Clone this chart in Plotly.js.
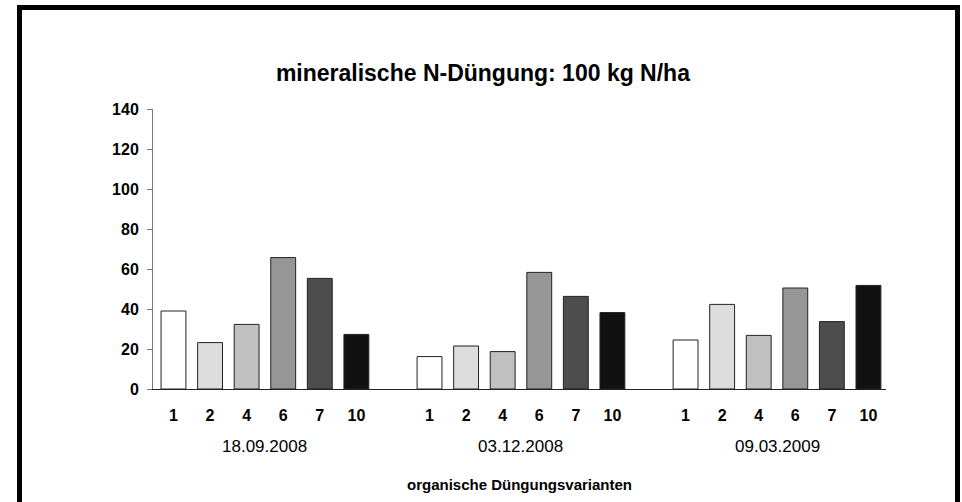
<!DOCTYPE html>
<html>
<head>
<meta charset="utf-8">
<script src="https://cdn.plot.ly/plotly-3.0.1.min.js"></script>
<style>
  html, body { margin: 0; padding: 0; overflow: hidden; background: #fff; }
  #wrap { position: relative; width: 962px; height: 502px; overflow: hidden; }
  #chart { position: absolute; left: 0; top: 0; width: 962px; height: 502px; }
  #frame { position: absolute; left: 17px; top: 5px; width: 933px; height: 600px;
           border: 5px solid #000; pointer-events: none; }
</style>
</head>
<body>
<div id="wrap">
  <div id="chart"></div>
  <div id="frame"></div>
</div>
<script>
const dates = ['18.09.2008', '03.12.2008', '09.03.2009'];
const variants = ['1', '2', '4', '6', '7', '10'];
const v1 = [39.0, 16.2, 24.5];
const v2 = [23.2, 21.5, 42.3];
const v4 = [32.3, 18.7, 26.8];
const v6 = [65.7, 58.3, 50.5];
const v7 = [55.3, 46.3, 33.7];
const v10 = [27.3, 38.2, 51.8];
const seriesValues = [v1, v2, v4, v6, v7, v10];
const colors = ['#ffffff', '#dddddd', '#c0c0c0', '#969696', '#4d4d4d', '#111111'];
const yTicks = [0, 20, 40, 60, 80, 100, 120, 140];

const slot = variants.length + 1; // one empty slot between date groups
const pos = (gi, vi) => gi * slot + vi;

const traces = variants.map((v, vi) => ({
  type: 'bar',
  name: v,
  x: dates.map((d, gi) => pos(gi, vi)),
  y: seriesValues[vi],
  width: 0.68,
  marker: { color: colors[vi], line: { color: '#222', width: 1 } },
  hoverinfo: 'y'
}));

const tickvals = [], ticktext = [];
dates.forEach((d, gi) => variants.forEach((v, vi) => { tickvals.push(pos(gi, vi)); ticktext.push(v); }));

const annotations = dates.map((d, gi) => ({
  x: pos(gi, (variants.length - 1) / 2), xref: 'x',
  y: 0, yref: 'paper', yanchor: 'middle', yshift: -57,
  text: d, showarrow: false,
  font: { family: 'Liberation Sans, Arial, sans-serif', size: 17, color: '#000' }
}));

const layout = {
  width: 962, height: 502,
  margin: { l: 153, r: 76, t: 109, b: 113 },
  paper_bgcolor: '#fff', plot_bgcolor: '#fff',
  showlegend: false,
  font: { family: 'Liberation Sans, Arial, sans-serif', color: '#000' },
  title: {
    text: 'mineralische N-Düngung: 100 kg N/ha',
    x: 0.502, xref: 'container', xanchor: 'center',
    y: 0.855, yref: 'container', yanchor: 'middle',
    font: { size: 23, weight: 'bold', color: '#000' }
  },
  xaxis: {
    range: [-0.56, 19.48],
    tickmode: 'array', tickvals: tickvals, ticktext: ticktext,
    tickfont: { size: 16, weight: 'bold', color: '#000' },
    ticks: '', ticklabelstandoff: 12,
    showline: true, linecolor: '#222', linewidth: 1,
    showgrid: false, zeroline: false,
    title: { text: 'organische Düngungsvarianten', standoff: 56,
             font: { size: 15, weight: 'bold', color: '#000' } }
  },
  yaxis: {
    range: [0, 140], tickmode: 'array', tickvals: yTicks,
    tickfont: { size: 16, weight: 'bold', color: '#000' },
    ticks: 'outside', ticklen: 5, tickcolor: '#777', tickwidth: 1,
    ticklabelstandoff: 5,
    showline: true, linecolor: '#777', linewidth: 1,
    showgrid: false, zeroline: false
  },
  annotations: annotations,
  bargap: 0
};

Plotly.newPlot('chart', traces, layout, { displayModeBar: false, staticPlot: true });
</script>
</body>
</html>
